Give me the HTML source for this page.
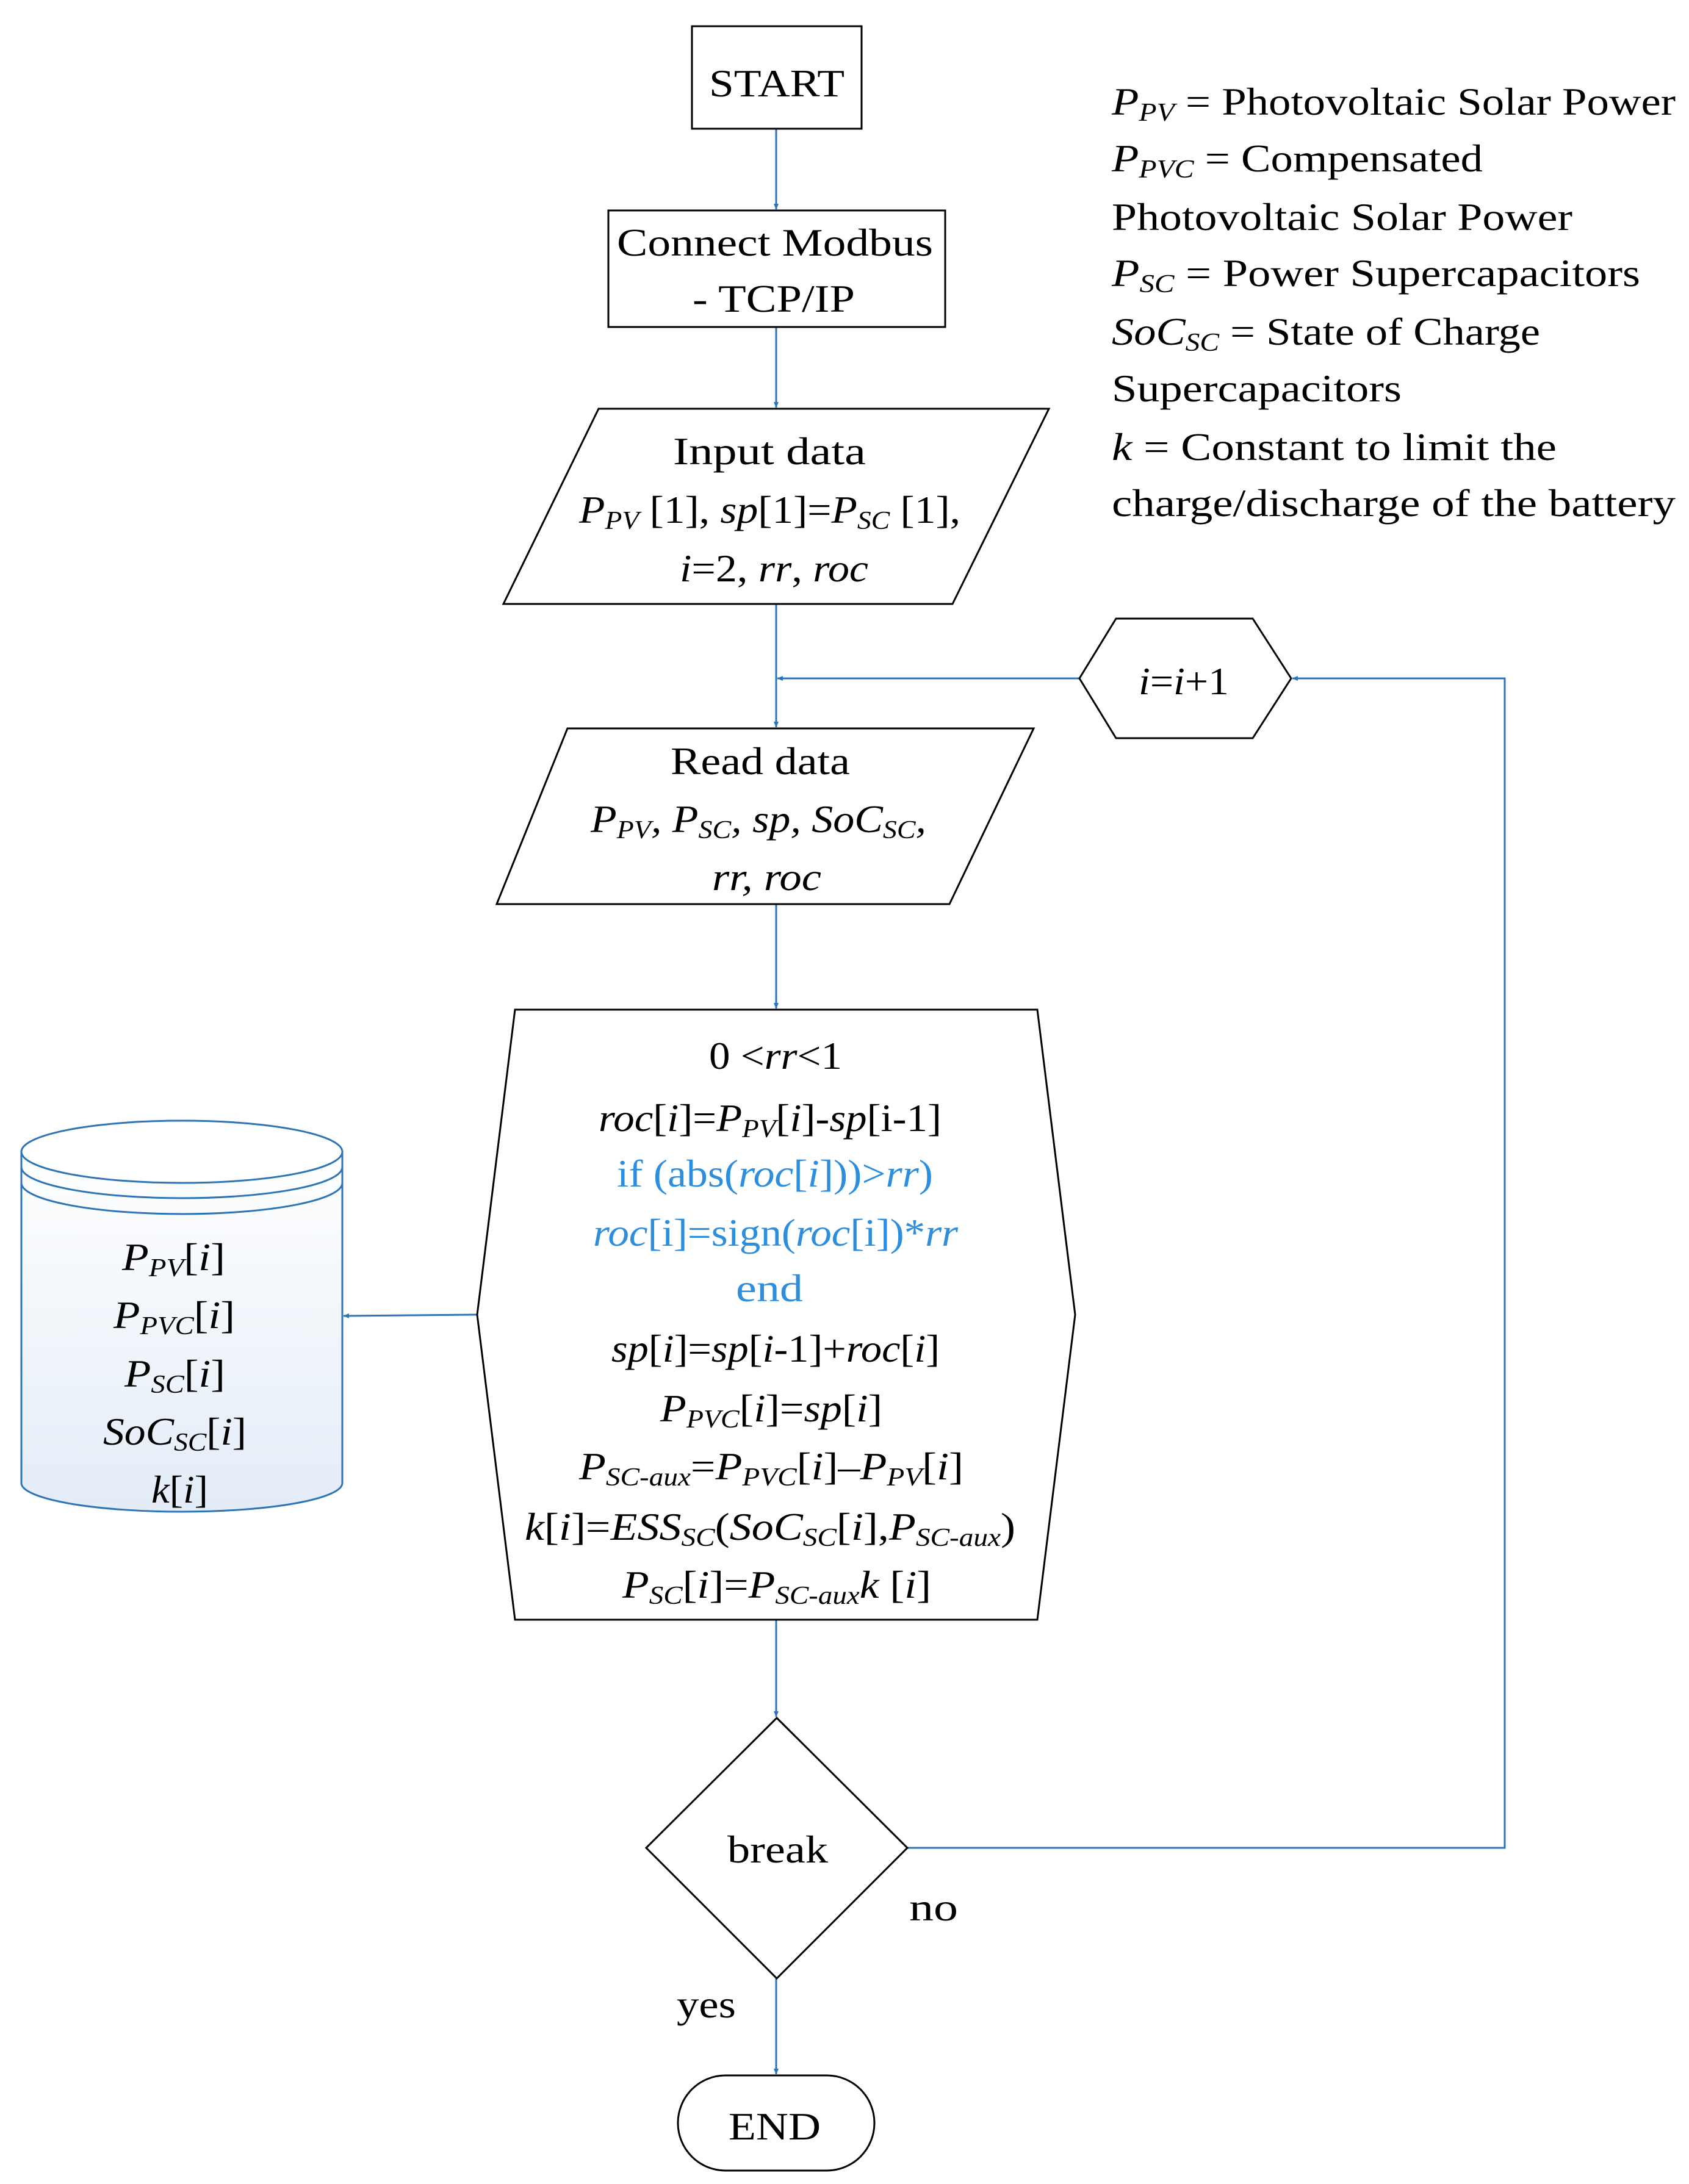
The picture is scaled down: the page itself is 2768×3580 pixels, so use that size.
<!DOCTYPE html>
<html><head><meta charset="utf-8"><style>
html,body{margin:0;padding:0;background:#fff;}
svg{display:block;}
text{font-family:"Liberation Serif",serif;font-size:64px;fill:#000;}
.b{fill:#2e8ede;}
.i{font-style:italic;}
</style></head><body>
<svg width="2768" height="3580" viewBox="0 0 2768 3580" xmlns="http://www.w3.org/2000/svg">
<defs>
<marker id="a" markerWidth="10" markerHeight="10" refX="9" refY="5" orient="auto" markerUnits="userSpaceOnUse"><path d="M0,1 L10,5 L0,9 z" fill="#2e75b6"/></marker>
<linearGradient id="g" x1="0" y1="0" x2="0" y2="1"><stop offset="0" stop-color="#ffffff"/><stop offset="1" stop-color="#e3ecf7"/></linearGradient>
</defs>
<g stroke="#2e75b6" stroke-width="3" fill="none">
<line x1="1272" y1="211" x2="1272" y2="343" marker-end="url(#a)"/>
<line x1="1272" y1="536" x2="1272" y2="668" marker-end="url(#a)"/>
<line x1="1272" y1="990" x2="1272" y2="1192" marker-end="url(#a)"/>
<line x1="1769" y1="1112" x2="1274" y2="1112" marker-end="url(#a)"/>
<line x1="1272" y1="1482" x2="1272" y2="1653" marker-end="url(#a)"/>
<line x1="782" y1="2155" x2="563" y2="2157" marker-end="url(#a)"/>
<line x1="1272" y1="2655" x2="1272" y2="2814" marker-end="url(#a)"/>
<line x1="1272" y1="3243" x2="1272" y2="3400" marker-end="url(#a)"/>
<polyline points="1487,3029 2466,3029 2466,1112 2118,1112" marker-end="url(#a)"/>
</g>
<g stroke="#000" stroke-width="3" fill="#fff">
<rect x="1134" y="43" width="278" height="168"/>
<rect x="997" y="345" width="552" height="191"/>
<polygon points="981,670 1719,670 1561,990 825,990"/>
<polygon points="1829,1014 2053,1014 2116,1112 2053,1210 1829,1210 1769,1112"/>
<polygon points="930,1194 1694,1194 1556,1482 814,1482"/>
<polygon points="844,1655 1700,1655 1762,2155 1700,2655 844,2655 782,2155"/>
<polygon points="1273,2816 1487,3029 1273,3243 1059,3029"/>
<rect x="1111" y="3402" width="322" height="156" rx="78" ry="78"/>
</g>
<g stroke="#2e75b6" stroke-width="3">
<path d="M35,1888 L35,2431 A263,47 0 0 0 561,2431 L561,1888 Z" fill="url(#g)"/>
<ellipse cx="298" cy="1888" rx="263" ry="51" fill="#fff"/>
<path d="M35,1913 A263,51 0 0 0 561,1913" fill="none"/>
<path d="M35,1939 A263,51 0 0 0 561,1939" fill="none"/>
</g>
<!-- legend -->
<text x="1822" y="188" textLength="924" lengthAdjust="spacingAndGlyphs"><tspan class="i">P</tspan><tspan class="i" font-size="42" dy="10">PV</tspan><tspan dy="-10"> = Photovoltaic Solar Power</tspan></text>
<text x="1822" y="281" textLength="608" lengthAdjust="spacingAndGlyphs"><tspan class="i">P</tspan><tspan class="i" font-size="42" dy="10">PVC</tspan><tspan dy="-10"> = Compensated</tspan></text>
<text x="1822" y="377" textLength="755" lengthAdjust="spacingAndGlyphs">Photovoltaic Solar Power</text>
<text x="1822" y="469" textLength="866" lengthAdjust="spacingAndGlyphs"><tspan class="i">P</tspan><tspan class="i" font-size="42" dy="10">SC</tspan><tspan dy="-10"> =  Power Supercapacitors</tspan></text>
<text x="1822" y="565" textLength="702" lengthAdjust="spacingAndGlyphs"><tspan class="i">SoC</tspan><tspan class="i" font-size="42" dy="10">SC</tspan><tspan dy="-10"> = State of Charge</tspan></text>
<text x="1822" y="658" textLength="475" lengthAdjust="spacingAndGlyphs">Supercapacitors</text>
<text x="1822" y="754" textLength="729" lengthAdjust="spacingAndGlyphs"><tspan class="i">k</tspan> = Constant to limit the</text>
<text x="1822" y="846" textLength="924" lengthAdjust="spacingAndGlyphs">charge/discharge of the battery</text>
<!-- nodes -->
<text x="1162" y="158" textLength="222" lengthAdjust="spacingAndGlyphs">START</text>
<text x="1011" y="419" textLength="518" lengthAdjust="spacingAndGlyphs">Connect Modbus</text>
<text x="1135" y="511" textLength="266" lengthAdjust="spacingAndGlyphs">- TCP/IP</text>
<text x="1103" y="761" textLength="316" lengthAdjust="spacingAndGlyphs">Input data</text>
<text x="949" y="857" textLength="625" lengthAdjust="spacingAndGlyphs"><tspan class="i">P</tspan><tspan class="i" font-size="42" dy="10">PV</tspan><tspan dy="-10"> [1], </tspan><tspan class="i">sp</tspan>[1]=<tspan class="i">P</tspan><tspan class="i" font-size="42" dy="10">SC</tspan><tspan dy="-10"> [1],</tspan></text>
<text x="1114" y="953" textLength="309" lengthAdjust="spacingAndGlyphs"><tspan class="i">i</tspan>=2, <tspan class="i">rr</tspan>, <tspan class="i">roc</tspan></text>
<text x="1866" y="1138" textLength="148" lengthAdjust="spacingAndGlyphs"><tspan class="i">i</tspan>=<tspan class="i">i</tspan>+1</text>
<text x="1099" y="1269" textLength="294" lengthAdjust="spacingAndGlyphs">Read data</text>
<text x="968" y="1364" textLength="550" lengthAdjust="spacingAndGlyphs" class="i">P<tspan font-size="42" dy="10">PV</tspan><tspan dy="-10">, P</tspan><tspan font-size="42" dy="10">SC</tspan><tspan dy="-10">, sp, SoC</tspan><tspan font-size="42" dy="10">SC</tspan><tspan dy="-10">,</tspan></text>
<text x="1167" y="1459" textLength="179" lengthAdjust="spacingAndGlyphs" class="i">rr, roc</text>
<!-- process -->
<text x="1162" y="1752" textLength="218" lengthAdjust="spacingAndGlyphs">0 &lt;<tspan class="i">rr</tspan>&lt;1</text>
<text x="981" y="1854" textLength="562" lengthAdjust="spacingAndGlyphs"><tspan class="i">roc</tspan>[<tspan class="i">i</tspan>]=<tspan class="i">P</tspan><tspan class="i" font-size="42" dy="10">PV</tspan><tspan dy="-10">[</tspan><tspan class="i">i</tspan>]-<tspan class="i">sp</tspan>[i-1]</text>
<text x="1011" y="1945" textLength="518" lengthAdjust="spacingAndGlyphs" class="b">if (abs(<tspan class="i">roc</tspan>[<tspan class="i">i</tspan>]))&gt;<tspan class="i">rr</tspan>)</text>
<text x="972" y="2042" textLength="598" lengthAdjust="spacingAndGlyphs" class="b"><tspan class="i">roc</tspan>[i]=sign(<tspan class="i">roc</tspan>[i])*<tspan class="i">rr</tspan></text>
<text x="1206" y="2133" textLength="110" lengthAdjust="spacingAndGlyphs" class="b">end</text>
<text x="1002" y="2232" textLength="538" lengthAdjust="spacingAndGlyphs"><tspan class="i">sp</tspan>[<tspan class="i">i</tspan>]=<tspan class="i">sp</tspan>[<tspan class="i">i</tspan>-1]+<tspan class="i">roc</tspan>[<tspan class="i">i</tspan>]</text>
<text x="1082" y="2330" textLength="364" lengthAdjust="spacingAndGlyphs"><tspan class="i">P</tspan><tspan class="i" font-size="42" dy="10">PVC</tspan><tspan dy="-10">[</tspan><tspan class="i">i</tspan>]=<tspan class="i">sp</tspan>[<tspan class="i">i</tspan>]</text>
<text x="949" y="2425" textLength="630" lengthAdjust="spacingAndGlyphs"><tspan class="i">P</tspan><tspan class="i" font-size="42" dy="10">SC-aux</tspan><tspan dy="-10">=</tspan><tspan class="i">P</tspan><tspan class="i" font-size="42" dy="10">PVC</tspan><tspan dy="-10">[</tspan><tspan class="i">i</tspan>]–<tspan class="i">P</tspan><tspan class="i" font-size="42" dy="10">PV</tspan><tspan dy="-10">[</tspan><tspan class="i">i</tspan>]</text>
<text x="860" y="2524" textLength="804" lengthAdjust="spacingAndGlyphs"><tspan class="i">k</tspan>[<tspan class="i">i</tspan>]=<tspan class="i">ESS</tspan><tspan class="i" font-size="42" dy="10">SC</tspan><tspan dy="-10">(</tspan><tspan class="i">SoC</tspan><tspan class="i" font-size="42" dy="10">SC</tspan><tspan dy="-10">[</tspan><tspan class="i">i</tspan>],<tspan class="i">P</tspan><tspan class="i" font-size="42" dy="10">SC-aux</tspan><tspan dy="-10">)</tspan></text>
<text x="1020" y="2619" textLength="506" lengthAdjust="spacingAndGlyphs"><tspan class="i">P</tspan><tspan class="i" font-size="42" dy="10">SC</tspan><tspan dy="-10">[</tspan><tspan class="i">i</tspan>]=<tspan class="i">P</tspan><tspan class="i" font-size="42" dy="10">SC-aux</tspan><tspan class="i" dy="-10">k</tspan> [<tspan class="i">i</tspan>]</text>
<!-- cylinder -->
<text x="200" y="2082" textLength="169" lengthAdjust="spacingAndGlyphs"><tspan class="i">P</tspan><tspan class="i" font-size="42" dy="10">PV</tspan><tspan dy="-10">[</tspan><tspan class="i">i</tspan>]</text>
<text x="186" y="2177" textLength="199" lengthAdjust="spacingAndGlyphs"><tspan class="i">P</tspan><tspan class="i" font-size="42" dy="10">PVC</tspan><tspan dy="-10">[</tspan><tspan class="i">i</tspan>]</text>
<text x="204" y="2273" textLength="165" lengthAdjust="spacingAndGlyphs"><tspan class="i">P</tspan><tspan class="i" font-size="42" dy="10">SC</tspan><tspan dy="-10">[</tspan><tspan class="i">i</tspan>]</text>
<text x="169" y="2368" textLength="235" lengthAdjust="spacingAndGlyphs"><tspan class="i">SoC</tspan><tspan class="i" font-size="42" dy="10">SC</tspan><tspan dy="-10">[</tspan><tspan class="i">i</tspan>]</text>
<text x="248" y="2463" textLength="93" lengthAdjust="spacingAndGlyphs"><tspan class="i">k</tspan>[<tspan class="i">i</tspan>]</text>
<!-- decision & end -->
<text x="1192" y="3053" textLength="165" lengthAdjust="spacingAndGlyphs">break</text>
<text x="1490" y="3148" textLength="80" lengthAdjust="spacingAndGlyphs">no</text>
<text x="1109" y="3307" textLength="97" lengthAdjust="spacingAndGlyphs">yes</text>
<text x="1194" y="3507" textLength="151" lengthAdjust="spacingAndGlyphs">END</text>
</svg>
</body></html>
